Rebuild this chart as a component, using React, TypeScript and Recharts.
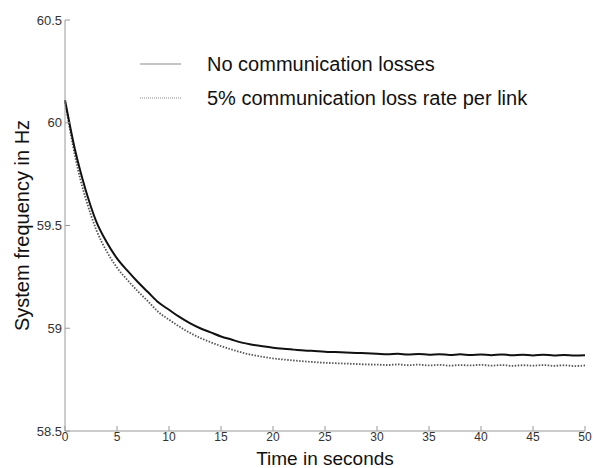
import { Legend, Line, LineChart, XAxis, YAxis } from 'recharts';

const times = [
  0, 0.5, 1, 1.5, 2, 2.5, 3, 4, 5, 6, 7, 8, 9, 10, 11, 12, 13, 14, 15, 16, 17, 18, 19,
  20, 21, 22, 23, 24, 25, 26, 27, 28, 29, 30, 31, 32, 33, 34, 35, 36, 37, 38, 39, 40,
  41, 42, 43, 44, 45, 46, 47, 48, 49, 50,
];

const noLoss = [
  60.11, 59.98, 59.86, 59.76, 59.67, 59.59, 59.52, 59.42, 59.34, 59.28, 59.225, 59.175,
  59.125, 59.09, 59.055, 59.025, 59.0, 58.98, 58.96, 58.945, 58.93, 58.92, 58.912,
  58.905, 58.9, 58.896, 58.892, 58.889, 58.886, 58.884, 58.882, 58.88, 58.878, 58.876,
  58.874, 58.876, 58.872, 58.875, 58.871, 58.874, 58.87, 58.873, 58.87, 58.872, 58.869,
  58.872, 58.869, 58.871, 58.868, 58.871, 58.868, 58.87, 58.867, 58.869,
];

const withLoss = [
  60.1, 59.96, 59.83, 59.72, 59.63, 59.55, 59.48, 59.375, 59.295, 59.235, 59.18, 59.13,
  59.078, 59.042, 59.008, 58.978, 58.953, 58.932, 58.913, 58.897, 58.882, 58.87, 58.861,
  58.853, 58.848, 58.843, 58.839, 58.835, 58.832, 58.83, 58.828, 58.826, 58.824, 58.823,
  58.821, 58.824, 58.82, 58.823, 58.819, 58.822, 58.818, 58.821, 58.819, 58.822, 58.818,
  58.821, 58.817, 58.82, 58.818, 58.821, 58.817, 58.82, 58.816, 58.819,
];

const xTicks = [0, 5, 10, 15, 20, 25, 30, 35, 40, 45, 50];
const yTicks = [58.5, 59, 59.5, 60, 60.5];

const data = times.map((t, i) => ({ t, noLoss: noLoss[i], withLoss: withLoss[i] }));

const font = 'Liberation Sans, Arial, sans-serif';
const axisColor = '#9a9a9a';

function LegendBox() {
  const rows = [
    { label: 'No communication losses', dash: undefined, color: '#8a8a8a' },
    { label: '5% communication loss rate per link', dash: '1 1', color: '#8a8a8a' },
  ];
  return (
    <div style={{ fontFamily: font, fontSize: 20, color: '#111' }}>
      {rows.map((r) => (
        <div key={r.label} style={{ display: 'flex', alignItems: 'center', height: 34 }}>
          <svg width={41} height={4} style={{ marginRight: 26 }}>
            <line x1={0} x2={41} y1={2} y2={2} stroke={r.color} strokeWidth={1.2} strokeDasharray={r.dash} />
          </svg>
          <span>{r.label}</span>
        </div>
      ))}
    </div>
  );
}

export default function App() {
  return (
    <div style={{ position: 'absolute', left: 0, top: 0, background: '#fff' }}>
      <LineChart width={593} height={468} data={data} margin={{ top: 20, right: 8, bottom: 0, left: 0 }}>
        <XAxis
          dataKey="t"
          type="number"
          domain={[0, 50]}
          ticks={xTicks}
          height={37}
          stroke={axisColor}
          tickSize={-5}
          tickMargin={6}
          tick={{ fill: '#333', fontSize: 12, fontFamily: font }}
          label={{ value: 'Time in seconds', position: 'insideBottom', offset: 3, fill: '#111', fontSize: 19, fontFamily: font }}
        />
        <YAxis
          type="number"
          domain={[58.5, 60.5]}
          ticks={yTicks}
          width={65}
          stroke={axisColor}
          tickSize={-5}
          tickMargin={8}
          tick={{ fill: '#333', fontSize: 13, fontFamily: font }}
          label={{
            value: 'System frequency in Hz',
            angle: -90,
            position: 'insideLeft',
            offset: 22,
            fill: '#111',
            fontSize: 20,
            fontFamily: font,
            style: { textAnchor: 'middle' },
          }}
        />
        <Legend
          layout="vertical"
          align="center"
          verticalAlign="middle"
          content={() => <LegendBox />}
          wrapperStyle={{ left: 140, top: 47, width: 420 }}
        />
        <Line
          type="monotone"
          dataKey="withLoss"
          stroke="#555"
          strokeWidth={1.8}
          strokeDasharray="1.5 1.5"
          dot={false}
          isAnimationActive={false}
        />
        <Line type="monotone" dataKey="noLoss" stroke="#111" strokeWidth={2} dot={false} isAnimationActive={false} />
      </LineChart>
    </div>
  );
}
